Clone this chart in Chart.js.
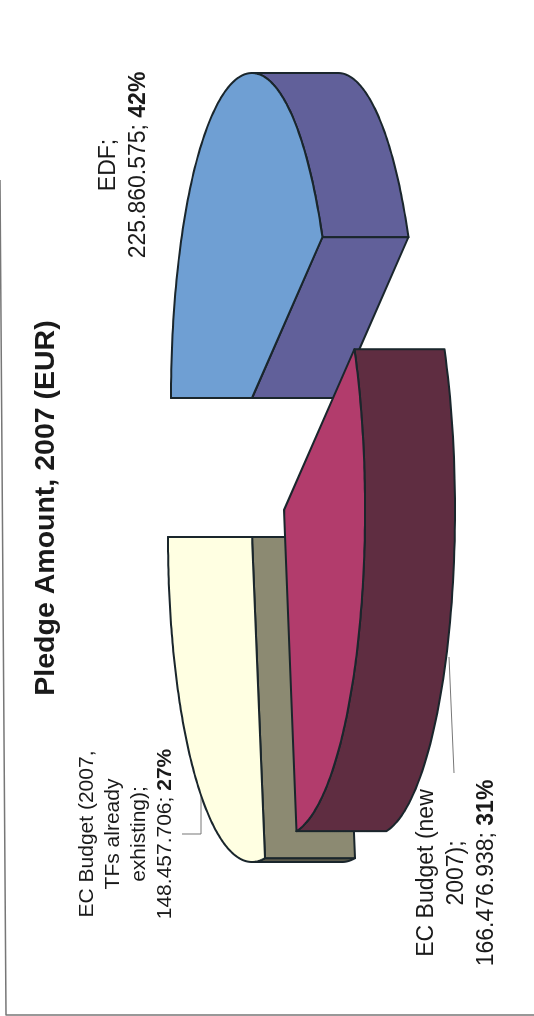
<!DOCTYPE html>
<html><head><meta charset="utf-8">
<script src="https://cdn.jsdelivr.net/npm/chart.js@4/dist/chart.umd.js"></script>
<style>
html,body{margin:0;padding:0;background:#fff;width:534px;height:1016px;overflow:hidden}
#c{position:absolute;left:0;top:0;width:1016px;height:534px;transform-origin:0 0;transform:translate(0,1016px) rotate(-90deg)}
</style></head><body>
<canvas id="c" width="1016" height="534"></canvas>
<script>
const categories = ['EDF', 'EC Budget (new 2007)', 'EC Budget (2007, TFs already exhisting)'];
const pledges = [225860575, 166476938, 148457706];
const titleText = 'Pledge Amount, 2007 (EUR)';
const labelNames = [['EDF;'], ['EC Budget (new', '2007);'], ['EC Budget (2007,', 'TFs already', 'exhisting);']];

const faceColors = ['#6f9fd3', '#b23c6c', '#ffffe2'];
const wallColors = ['#61609a', '#5f2d41', '#8c8a72'];
const rimColors  = ['#61609a', '#5f2d41', '#5d5c4c'];
const edgeColor = '#1a262c';
const sliceCenters = [[618, 252], [506, 284], [479, 252]];
const sliceDepths = [86, 90, 90];
const sliceRadiiY = [81, 81, 84];
const RX = 325;
const drawOrder = [0, 2, 1];
const labelStyle = [
  {x: 851, base: 115, gap: 30, size: 23},
  {x: 143, base: 433, gap: 30, size: 23},
  {x: 182, base: 93,  gap: 26, size: 21}
];

function fmt(v){ return String(v).replace(/\B(?=(\d{3})+$)/g, '.'); }

const pie3d = {
  id: 'pie3d',
  beforeDatasetsDraw(chart) {
    const ctx = chart.ctx, arcs = chart.getDatasetMeta(0).data;
    const total = pledges.reduce((a, b) => a + b, 0);
    ctx.save();
    ctx.lineJoin = 'round';
    // frame
    ctx.strokeStyle = '#777'; ctx.lineWidth = 1.5;
    ctx.beginPath(); ctx.moveTo(836, 0); ctx.lineTo(1, 6); ctx.lineTo(1, 534); ctx.stroke();
    // leader lines
    ctx.strokeStyle = '#777'; ctx.lineWidth = 1;
    ctx.beginPath(); ctx.moveTo(182, 182); ctx.lineTo(182, 201); ctx.lineTo(223, 201); ctx.stroke();
    ctx.beginPath(); ctx.moveTo(359, 449); ctx.lineTo(243, 454); ctx.stroke();

    for (const i of drawOrder) {
      const el = arcs[i], [cx, cy] = sliceCenters[i], DEPTH = sliceDepths[i], RY = sliceRadiiY[i];
      const s = el.startAngle, e = el.endAngle;
      const px = t => cx + RX * Math.cos(t), py = t => cy + RY * Math.sin(t);
      const paint = (fill) => { ctx.fillStyle = fill; ctx.fill(); ctx.strokeStyle = edgeColor; ctx.lineWidth = 2; ctx.stroke(); };
      // outer wall: only the part of the rim that faces the viewer
      const ranges = [[s, e], [s + 2 * Math.PI, e + 2 * Math.PI], [s - 2 * Math.PI, e - 2 * Math.PI]];
      for (const [a0, b0] of ranges) {
        const a = Math.max(a0, 0), b = Math.min(b0, Math.PI);
        if (b <= a) continue;
        ctx.beginPath();
        const n = 60;
        for (let k = 0; k <= n; k++) { const t = a + (b - a) * k / n; ctx.lineTo(px(t), py(t)); }
        for (let k = n; k >= 0; k--) { const t = a + (b - a) * k / n; ctx.lineTo(px(t), py(t) + DEPTH); }
        ctx.closePath();
        paint(rimColors[i]);
      }
      // radial walls
      const quad = t => {
        ctx.beginPath();
        ctx.moveTo(cx, cy); ctx.lineTo(px(t), py(t)); ctx.lineTo(px(t), py(t) + DEPTH); ctx.lineTo(cx, cy + DEPTH); ctx.closePath();
        paint(wallColors[i]);
      };
      if (-Math.cos(s) > -0.02) quad(s);
      if (Math.cos(e) > -0.02) quad(e);
      // top face
      ctx.beginPath();
      ctx.moveTo(cx, cy);
      const n = 120;
      for (let k = 0; k <= n; k++) { const t = s + (e - s) * k / n; ctx.lineTo(px(t), py(t)); }
      ctx.closePath();
      paint(el.options.backgroundColor);
    }
    // data labels
    ctx.fillStyle = '#1a1a1a';
    ctx.textBaseline = 'alphabetic';
    labelStyle.forEach((st, i) => {
      const f = `${st.size}px "Liberation Sans", Arial, sans-serif`;
      const fb = `bold ${st.size}px "Liberation Sans", Arial, sans-serif`;
      let y = st.base;
      ctx.textAlign = 'center'; ctx.font = f;
      for (const line of labelNames[i]) { ctx.fillText(line, st.x, y); y += st.gap; }
      const left = fmt(pledges[i]) + '; ', pct = Math.round(pledges[i] / total * 100) + '%';
      ctx.font = f; const w1 = ctx.measureText(left).width;
      ctx.font = fb; const w2 = ctx.measureText(pct).width;
      ctx.textAlign = 'left';
      const x0 = st.x - (w1 + w2) / 2;
      ctx.font = f; ctx.fillText(left, x0, y);
      ctx.font = fb; ctx.fillText(pct, x0 + w1, y);
    });
    ctx.restore();
    return false;
  }
};

new Chart(document.getElementById('c'), {
  type: 'pie',
  data: { labels: categories, datasets: [{ data: pledges, backgroundColor: faceColors, borderColor: edgeColor, borderWidth: 1 }] },
  options: {
    responsive: false, animation: false, devicePixelRatio: 1,
    rotation: 0,
    plugins: {
      legend: { display: false },
      tooltip: { enabled: false },
      title: { display: true, text: titleText, color: '#1a1a1a',
        font: { family: '"Liberation Sans", Arial, sans-serif', size: 28.5, weight: 'bold' },
        padding: { top: 29, bottom: 4 } }
    }
  },
  plugins: [pie3d]
});
</script>
</body></html>
